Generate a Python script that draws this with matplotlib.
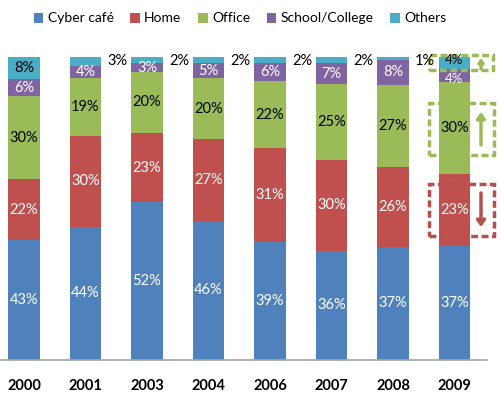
import numpy as np
import matplotlib.pyplot as plt
from matplotlib.patches import Rectangle

plt.rcParams['font.family'] = ['Lato', 'DejaVu Sans']

# data (percent labels per year)
years = ["2000", "2001", "2003", "2004", "2006", "2007", "2008", "2009"]
cyber = [43, 44, 52, 46, 39, 36, 37, 37]
home = [22, 30, 23, 27, 31, 30, 26, 23]
office = [30, 19, 20, 20, 22, 25, 27, 30]
school = [6, 4, 3, 5, 6, 7, 8, 4]
others = [8, 3, 2, 2, 2, 2, 1, 4]

series = [cyber, home, office, school, others]
names = ["Cyber café", "Home", "Office", "School/College", "Others"]
colors = ["#4F81BD", "#C0504D", "#9BBB59", "#8064A2", "#4BACC6"]
text_colors = ["white", "white", "black", "white", "black"]

vals = np.array(series, dtype=float)
totals = vals.sum(axis=0)
shares = vals / totals * 100  # bars are drawn as 100% stacked

fig = plt.figure(figsize=(5.0, 3.99), dpi=100)
# axes placed in pixel terms: baseline at y=360, top at y=57, x from 0 to 487
ax = fig.add_axes([0.0, 1 - 360 / 399, 487 / 500, 303 / 399])

x = np.arange(len(years))
width = 0.52
bottom = np.zeros(len(years))
for k in range(5):
    ax.bar(x, shares[k], width, bottom=bottom, color=colors[k], label=names[k])
    for i in range(len(years)):
        v = int(vals[k, i])
        mid = bottom[i] + shares[k, i] / 2
        fs = 10.5
        # two thin labelled segments stacked on top of each other: nudge apart
        if k in (3, 4) and school[i] < 5 and others[i] > 3:
            fs = 9.5
            mid += 1.2 if k == 4 else -1.2
        if k == 4 and v <= 3:
            ax.text(x[i] + width / 2 + 0.1, 98.6, f"{v}%", ha="left", va="center",
                    fontsize=10.5, color="black")
        else:
            ax.text(x[i], mid, f"{v}%", ha="center", va="center",
                    fontsize=fs, color=text_colors[k])
    bottom += shares[k]

ax.set_xlim(-24 / 61.5, 463 / 61.5)
ax.set_ylim(0, 100)
ax.set_xticks(x)
ax.set_xticklabels(years, fontsize=10.5, fontweight="bold")
ax.tick_params(axis="x", length=0, pad=14)
ax.set_yticks([])
for s in ["top", "left", "right"]:
    ax.spines[s].set_visible(False)
ax.spines["bottom"].set_color("#A6A6A6")
ax.spines["bottom"].set_linewidth(1.2)


def px(xp, yp):
    return (xp - 24) / 61.5, (360 - yp) / 303 * 100


# dashed highlight boxes on 2009
boxes = [((429, 70), (493, 55), "#9BBB59", (69, 58), 0.15),
         ((429, 155), (494, 103), "#9BBB59", (145, 112), 0.25),
         ((429, 236), (494, 184), "#B5504D", (193, 227), 0.25)]
for (x0, y0), (x1, y1), col, (a0, a1), hw in boxes:
    dx0, dy0 = px(x0, y0)
    dx1, dy1 = px(x1, y1)
    ax.add_patch(Rectangle((dx0, dy0), dx1 - dx0, dy1 - dy0, fill=False,
                           edgecolor=col, linewidth=2.5, linestyle=(0, (2, 1)),
                           clip_on=False))
    ax0, ay0 = px(481, a0)
    _, ay1 = px(481, a1)
    ax.annotate("", xy=(ax0, ay1), xytext=(ax0, ay0), annotation_clip=False,
                arrowprops=dict(arrowstyle=f"-|>,head_width={hw},head_length={hw * 1.4}",
                                color=col, lw=2.5, shrinkA=0, shrinkB=0))

fig.legend(loc="upper center", bbox_to_anchor=(0.48, 1.0), ncol=5, frameon=False,
           fontsize=10, handlelength=0.7, handleheight=0.7, handletextpad=0.3,
           columnspacing=1.2)

fig.savefig("out.png", dpi=100)
